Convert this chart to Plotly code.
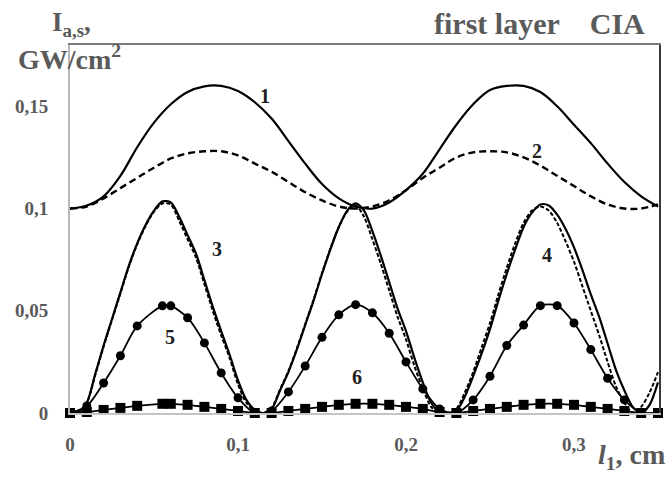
import plotly.graph_objects as go

# ---------------- data ----------------
X_FINE = [0.000, 0.005, 0.010, 0.015, 0.020, 0.025, 0.030, 0.035, 0.040, 0.045,
          0.050, 0.055, 0.060, 0.065, 0.070, 0.075, 0.080, 0.085, 0.090, 0.095,
          0.100, 0.105, 0.110, 0.115, 0.120, 0.125, 0.130, 0.135, 0.140, 0.145,
          0.150, 0.155, 0.160, 0.165, 0.170, 0.175, 0.180, 0.185, 0.190, 0.195,
          0.200, 0.205, 0.210, 0.215, 0.220, 0.225, 0.230, 0.235, 0.240, 0.245,
          0.250, 0.255, 0.260, 0.265, 0.270, 0.275, 0.280, 0.285, 0.290, 0.295,
          0.300, 0.305, 0.310, 0.315, 0.320, 0.325, 0.330, 0.335, 0.340, 0.345,
          0.350]

CURVE3 = [0.0000, 0.0005, 0.0050, 0.0190, 0.0330, 0.0460, 0.0590, 0.0720, 0.0830, 0.0920,
          0.0990, 0.1035, 0.1030, 0.0960, 0.0870, 0.0780, 0.0650, 0.0520, 0.0400, 0.0285,
          0.0160, 0.0064, 0.0015, 0.0000, 0.0020, 0.0110, 0.0200, 0.0310, 0.0430, 0.0550,
          0.0680, 0.0800, 0.0910, 0.0990, 0.1025, 0.0990, 0.0890, 0.0770, 0.0640, 0.0510,
          0.0400, 0.0270, 0.0150, 0.0050, 0.0005, 0.0000, 0.0010, 0.0080, 0.0180, 0.0290,
          0.0410, 0.0550, 0.0680, 0.0800, 0.0910, 0.0980, 0.1020, 0.1015, 0.0970, 0.0900,
          0.0810, 0.0700, 0.0580, 0.0470, 0.0340, 0.0210, 0.0110, 0.0030, 0.0000, 0.0040,
          0.0150]

CURVE4 = [0.0000, 0.0005, 0.0050, 0.0185, 0.0325, 0.0455, 0.0585, 0.0715, 0.0825, 0.0915,
          0.0985, 0.1025, 0.1020, 0.0940, 0.0850, 0.0760, 0.0630, 0.0500, 0.0380, 0.0270,
          0.0140, 0.0050, 0.0010, 0.0000, 0.0025, 0.0115, 0.0205, 0.0315, 0.0435, 0.0555,
          0.0685, 0.0805, 0.0910, 0.0985, 0.1015, 0.0960, 0.0850, 0.0730, 0.0600, 0.0470,
          0.0360, 0.0230, 0.0120, 0.0030, 0.0000, 0.0000, 0.0020, 0.0100, 0.0200, 0.0320,
          0.0440, 0.0580, 0.0710, 0.0830, 0.0930, 0.0990, 0.1010, 0.0990, 0.0930, 0.0840,
          0.0740, 0.0620, 0.0500, 0.0380, 0.0250, 0.0130, 0.0050, 0.0000, 0.0030, 0.0100,
          0.0200]

X_COARSE = [0.00, 0.01, 0.02, 0.03, 0.04, 0.05, 0.06, 0.07, 0.08, 0.09,
            0.10, 0.11, 0.12, 0.13, 0.14, 0.15, 0.16, 0.17, 0.18, 0.19,
            0.20, 0.21, 0.22, 0.23, 0.24, 0.25, 0.26, 0.27, 0.28, 0.29,
            0.30, 0.31, 0.32, 0.33, 0.34, 0.35]

CURVE1 = [0.1000, 0.1015, 0.1060, 0.1160, 0.1300, 0.1420, 0.1510, 0.1570, 0.1598, 0.1600,
          0.1575, 0.1520, 0.1440, 0.1330, 0.1220, 0.1120, 0.1050, 0.1010, 0.1000, 0.1030,
          0.1090, 0.1170, 0.1290, 0.1410, 0.1510, 0.1580, 0.1600, 0.1600, 0.1570, 0.1500,
          0.1410, 0.1320, 0.1220, 0.1130, 0.1060, 0.1010]

CURVE2 = [0.1000, 0.1010, 0.1050, 0.1100, 0.1150, 0.1200, 0.1245, 0.1270, 0.1280, 0.1280,
          0.1260, 0.1220, 0.1180, 0.1130, 0.1080, 0.1040, 0.1010, 0.1000, 0.1010, 0.1040,
          0.1090, 0.1150, 0.1200, 0.1250, 0.1275, 0.1280, 0.1275, 0.1250, 0.1210, 0.1160,
          0.1110, 0.1060, 0.1020, 0.1000, 0.1000, 0.1020]

X_MARK = [0.000, 0.010, 0.020, 0.030, 0.040, 0.055, 0.060, 0.070, 0.080, 0.090,
          0.100, 0.110, 0.120, 0.130, 0.140, 0.150, 0.160, 0.170, 0.180, 0.190,
          0.200, 0.210, 0.220, 0.230, 0.240, 0.250, 0.260, 0.270, 0.280, 0.290,
          0.300, 0.310, 0.320, 0.330, 0.340, 0.350]

CURVE5 = [0.0000, 0.0034, 0.0147, 0.0280, 0.0426, 0.0524, 0.0524, 0.0466, 0.0343, 0.0196,
          0.0074, 0.0000, 0.0010, 0.0103, 0.0230, 0.0370, 0.0480, 0.0530, 0.0490, 0.0390,
          0.0250, 0.0118, 0.0020, 0.0000, 0.0064, 0.0180, 0.0330, 0.0430, 0.0525, 0.0525,
          0.0440, 0.0310, 0.0170, 0.0064, 0.0000, 0.0000]

CURVE6 = [0.0000, 0.0005, 0.0015, 0.0025, 0.0035, 0.0045, 0.0045, 0.0040, 0.0030, 0.0020,
          0.0010, 0.0000, 0.0000, 0.0010, 0.0020, 0.0030, 0.0040, 0.0045, 0.0045, 0.0040,
          0.0030, 0.0020, 0.0005, 0.0000, 0.0010, 0.0020, 0.0030, 0.0040, 0.0045, 0.0045,
          0.0040, 0.0030, 0.0020, 0.0010, 0.0000, 0.0000]

X_TICKS = [0, 0.1, 0.2, 0.3]
X_TICK_TEXT = ["0", "0,1", "0,2", "0,3"]
Y_TICKS = [0, 0.05, 0.1, 0.15]
Y_TICK_TEXT = ["0", "0,05", "0,1", "0,15"]

CURVE_LABELS = ["1", "2", "3", "4", "5", "6"]
LABEL_X = [0.116, 0.278, 0.0875, 0.284, 0.0595, 0.171]
LABEL_Y = [0.155, 0.128, 0.080, 0.0775, 0.037, 0.0176]

X_RANGE = [0, 0.3506]
Y_RANGE = [0, 0.18]

# ---------------- figure ----------------
SERIF = "Liberation Serif, Times New Roman, serif"
GREY_TXT = "#5a5a5a"

fig = go.Figure()

# invisible helper trace so the top / right frame axes are drawn
fig.add_trace(go.Scatter(x=X_RANGE, y=Y_RANGE, xaxis="x2", yaxis="y2", mode="lines",
                         line=dict(width=0, color="rgba(0,0,0,0)"), hoverinfo="skip"))

fig.add_trace(go.Scatter(x=X_COARSE, y=CURVE1, mode="lines",
                         line=dict(color="black", width=2.2, shape="spline", smoothing=1)))
fig.add_trace(go.Scatter(x=X_COARSE, y=CURVE2, mode="lines",
                         line=dict(color="black", width=2.4, dash="7px,4px",
                                   shape="spline", smoothing=1)))
fig.add_trace(go.Scatter(x=X_FINE, y=CURVE3, mode="lines",
                         line=dict(color="black", width=2.2, shape="spline", smoothing=0.8)))
fig.add_trace(go.Scatter(x=X_FINE, y=CURVE4, mode="lines",
                         line=dict(color="black", width=2, dash="4px,2px",
                                   shape="spline", smoothing=0.8)))
fig.add_trace(go.Scatter(x=X_MARK, y=CURVE5, mode="lines+markers", cliponaxis=False,
                         line=dict(color="black", width=1.8, shape="spline", smoothing=0.8),
                         marker=dict(symbol="circle", size=9, color="black")))
fig.add_trace(go.Scatter(x=X_MARK, y=CURVE6, mode="lines+markers", cliponaxis=False,
                         line=dict(color="black", width=1.8, shape="spline", smoothing=0.8),
                         marker=dict(symbol="square", size=10, color="black")))

for t, lx, ly in zip(CURVE_LABELS, LABEL_X, LABEL_Y):
    fig.add_annotation(x=lx, y=ly, xref="x", yref="y", text="<b>%s</b>" % t,
                       showarrow=False, font=dict(family=SERIF, size=20, color="#202020"))

# texts
fig.add_annotation(x=-0.034, y=1.057, xref="paper", yref="paper", xanchor="left",
                   yanchor="middle", showarrow=False,
                   text="<b>I<sub>a,s</sub>,</b>",
                   font=dict(family=SERIF, size=27, color=GREY_TXT))
fig.add_annotation(x=-0.092, y=0.967, xref="paper", yref="paper", xanchor="left",
                   yanchor="middle", showarrow=False,
                   text="<b>GW/cm<sup>2</sup></b>",
                   font=dict(family=SERIF, size=28, color=GREY_TXT))
fig.add_annotation(x=0.980, y=1.058, xref="paper", yref="paper", xanchor="right",
                   yanchor="middle", showarrow=False,
                   text="<b>first layer&nbsp;&nbsp;&nbsp;&nbsp;CIA</b>",
                   font=dict(family=SERIF, size=30, color=GREY_TXT))
fig.add_annotation(x=1.0136, y=-0.171, xref="paper", yref="paper", xanchor="right",
                   yanchor="bottom", showarrow=False,
                   text="<b><i>l</i><sub>1</sub>, cm</b>",
                   font=dict(family=SERIF, size=28, color=GREY_TXT))

fig.update_layout(
    width=668, height=486,
    margin=dict(l=70, r=9, t=45, b=73),
    paper_bgcolor="white", plot_bgcolor="white",
    showlegend=False,
    xaxis=dict(range=X_RANGE, tickvals=X_TICKS,
               ticktext=["<b>%s</b>" % s for s in X_TICK_TEXT],
               showgrid=False, zeroline=False, ticks="",
               showline=True, linecolor="#c4c4c4", linewidth=2,
               ticklabelstandoff=13,
               tickfont=dict(family=SERIF, size=19, color=GREY_TXT)),
    yaxis=dict(range=Y_RANGE, tickvals=Y_TICKS,
               ticktext=["<b>%s</b>" % s for s in Y_TICK_TEXT],
               showgrid=False, zeroline=False, ticks="",
               showline=True, linecolor="#b8b8b8", linewidth=2,
               ticklabelstandoff=16,
               tickfont=dict(family=SERIF, size=19, color=GREY_TXT)),
    xaxis2=dict(range=X_RANGE, overlaying="x", side="top", showgrid=False,
                zeroline=False, ticks="", showticklabels=False,
                showline=True, linecolor="#7a7a7a", linewidth=1.5),
    yaxis2=dict(range=Y_RANGE, overlaying="y", side="right", showgrid=False,
                zeroline=False, ticks="", showticklabels=False,
                showline=True, linecolor="#3a3a3a", linewidth=1.5),
)

fig.write_html("out.html", config={"displayModeBar": False},
               post_script="document.body.style.margin='0';document.body.style.overflow='hidden';")
